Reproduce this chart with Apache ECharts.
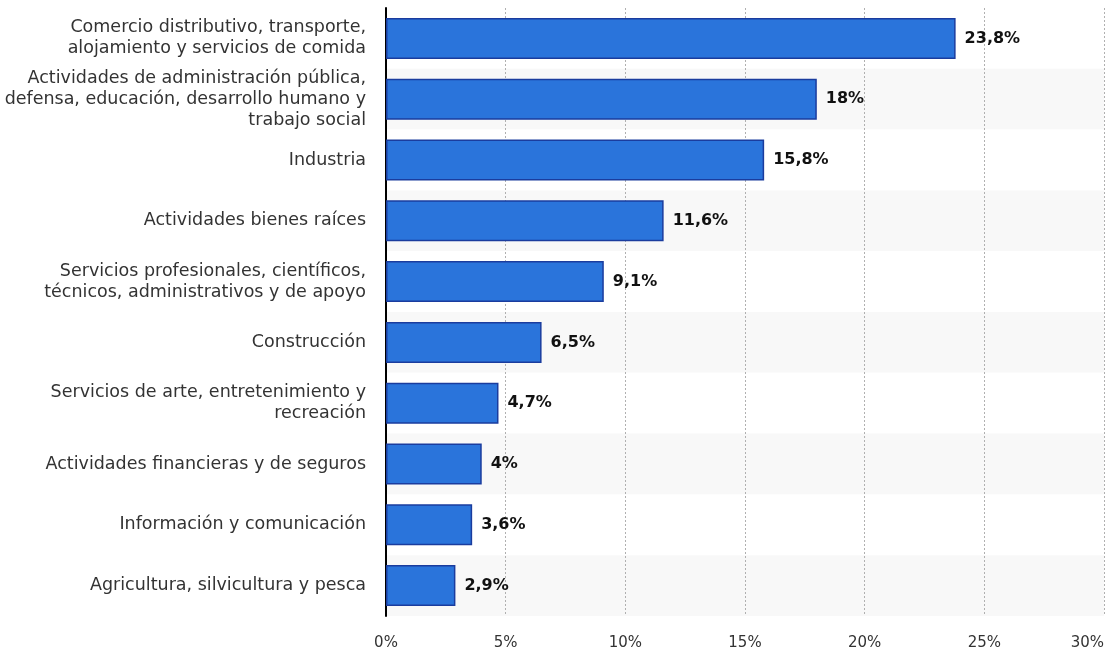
<!DOCTYPE html>
<html>
<head>
<meta charset="utf-8">
<script src="https://cdn.jsdelivr.net/npm/echarts@6/dist/echarts.min.js"></script>
<style>
  html, body { margin: 0; padding: 0; background: #fff; }
  #chart { width: 1107px; height: 654px; }
</style>
</head>
<body>
<div id="chart"></div>
<script>
// Sector categories, top to bottom
const categories = [
  'Comercio distributivo, transporte,\nalojamiento y servicios de comida',
  'Actividades de administración pública,\ndefensa, educación, desarrollo humano y\ntrabajo social',
  'Industria',
  'Actividades bienes raíces',
  'Servicios profesionales, científicos,\ntécnicos, administrativos y de apoyo',
  'Construcción',
  'Servicios de arte, entretenimiento y\nrecreación',
  'Actividades financieras y de seguros',
  'Información y comunicación',
  'Agricultura, silvicultura y pesca'
];

// Share of each sector (%)
const shares = [23.8, 18, 15.8, 11.6, 9.1, 6.5, 4.7, 4, 3.6, 2.9];

// Value axis ticks (%)
const xTicks = [0, 5, 10, 15, 20, 25, 30];

const fmt = v => String(v).replace('.', ',') + '%';

const chart = echarts.init(document.getElementById('chart'));
chart.setOption({
  animation: false,
  backgroundColor: '#fff',
  grid: {
    left: 386, right: 3, top: 8, bottom: 38,
    containLabel: false,
    outerBoundsMode: 'none'
  },
  xAxis: {
    type: 'value',
    min: xTicks[0],
    max: xTicks[xTicks.length - 1],
    interval: 5,
    axisLine: { show: false },
    axisTick: { show: false },
    axisLabel: {
      formatter: v => v + '%',
      color: '#333',
      fontFamily: 'DejaVu Sans',
      fontSize: 15,
      margin: 20,
      alignMaxLabel: 'right'
    },
    splitLine: {
      show: true,
      lineStyle: { color: '#b0b0b0', type: [2, 2], width: 1 }
    }
  },
  yAxis: {
    type: 'category',
    inverse: true,
    data: categories,
    axisLine: { show: true, lineStyle: { color: '#000', width: 2 } },
    axisTick: { show: false },
    axisLabel: {
      color: '#333',
      fontFamily: 'DejaVu Sans',
      fontSize: 17.5,
      lineHeight: 21,
      align: 'right',
      margin: 20
    },
    splitArea: { show: true, areaStyle: { color: ['#ffffff', '#f8f8f8'] } }
  },
  series: [{
    type: 'bar',
    data: shares,
    barWidth: 41,
    itemStyle: {
      color: '#2a74db',
      borderColor: '#1a3c9e',
      borderWidth: 1.5
    },
    label: {
      show: true,
      position: 'right',
      distance: 9,
      formatter: p => fmt(p.value),
      color: '#111',
      fontFamily: 'DejaVu Sans',
      fontWeight: 'bold',
      fontSize: 16
    }
  }]
});
</script>
</body>
</html>
